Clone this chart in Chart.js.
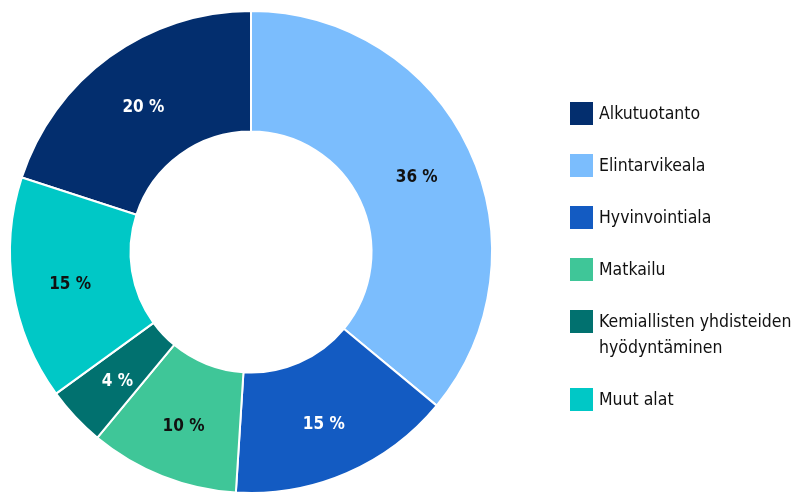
<!DOCTYPE html>
<html>
<head>
<meta charset="utf-8">
<script src="https://cdn.jsdelivr.net/npm/chart.js@4"></script>
<style>
   html, body { margin: 0; padding: 0; background: #fff; }
   body { width: 795px; height: 494px; position: relative; overflow: hidden;
      font-family: "DejaVu Sans Condensed", "DejaVu Sans", sans-serif; font-stretch: condensed; }
   #wrap { position: absolute; left: 0; top: 0; width: 795px; height: 494px; }
   #legend { position: absolute; left: 570px; top: 100px; }
   .item { display: flex; align-items: flex-start; margin-bottom: 26px; }
   .box { width: 23px; height: 23px; flex: none; margin-top: 2px; margin-right: 6px; }
   .txt { font-size: 17.5px; line-height: 26px; color: #111; white-space: nowrap; }
</style>
</head>
<body>
<div id="wrap"><canvas id="donut"></canvas></div>
<div id="legend"></div>
<script>
const labels = ['Alkutuotanto', 'Elintarvikeala', 'Hyvinvointiala', 'Matkailu', 'Kemiallisten yhdisteiden hyödyntäminen', 'Muut alat'];
const legendLines = [['Alkutuotanto'], ['Elintarvikeala'], ['Hyvinvointiala'], ['Matkailu'], ['Kemiallisten yhdisteiden', 'hyödyntäminen'], ['Muut alat']];
const shares = [20, 36, 15, 10, 4, 15];
const colors = ['#032e6e', '#7bbdfd', '#135bc2', '#3fc698', '#01716f', '#00c8c6'];
const labelColors = ['#ffffff', '#111111', '#ffffff', '#111111', '#ffffff', '#111111'];

document.addEventListener('DOMContentLoaded', initApp);

function initApp() {
   buildLegend();
   drawDonut();
}

function buildLegend() {
   const legend = document.getElementById('legend');
   legendLines.forEach((lines, i) => {
      const item = document.createElement('div');
      item.className = 'item';
      const box = document.createElement('div');
      box.className = 'box';
      box.style.background = colors[i];
      const txt = document.createElement('div');
      txt.className = 'txt';
      txt.innerHTML = lines.join('<br>');
      item.appendChild(box);
      item.appendChild(txt);
      legend.appendChild(item);
   });
}

// percent labels in the middle of each slice
const sliceLabels = {
   id: 'sliceLabels',
   afterDatasetsDraw(chart) {
      const ctx = chart.ctx;
      const meta = chart.getDatasetMeta(0);
      ctx.save();
      ctx.font = 'bold 17px "DejaVu Sans Condensed", "DejaVu Sans", sans-serif';
      ctx.textAlign = 'center';
      ctx.textBaseline = 'middle';
      meta.data.forEach((arc, i) => {
         const p = arc.getProps(['x', 'y', 'startAngle', 'endAngle', 'innerRadius', 'outerRadius']);
         const mid = (p.startAngle + p.endAngle) / 2;
         const r = p.innerRadius + (p.outerRadius - p.innerRadius) * 0.52;
         ctx.fillStyle = labelColors[i];
         ctx.fillText(shares[i] + ' %', p.x + Math.cos(mid) * r, p.y + Math.sin(mid) * r + 4);
      });
      ctx.restore();
   }
};

function drawDonut() {
   const ctx = document.getElementById('donut').getContext('2d');
   new Chart(ctx, {
      type: 'doughnut',
      data: {
         labels: labels,
         datasets: [{
            data: shares,
            backgroundColor: colors,
            borderColor: '#ffffff',
            borderWidth: 2,
         }],
      },
      options: {
         responsive: true,
         maintainAspectRatio: false,
         animation: false,
         rotation: -72,
         cutout: '50%',
         layout: {
            padding: { left: 8, top: 10, right: 301, bottom: 0 },
         },
         plugins: {
            legend: { display: false },
            tooltip: { enabled: false },
         },
      },
      plugins: [sliceLabels],
   });
}
</script>
</body>
</html>
